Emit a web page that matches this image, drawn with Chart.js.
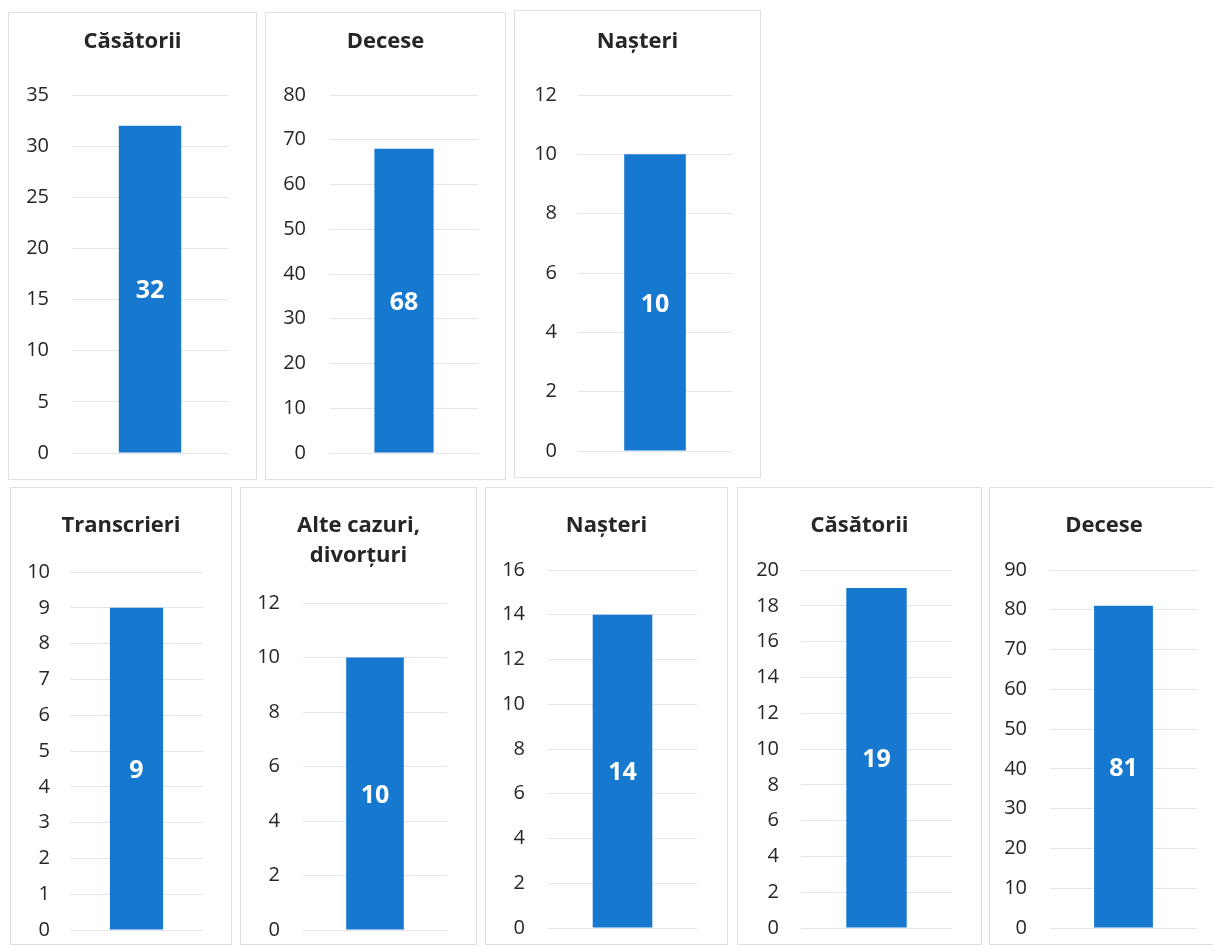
<!DOCTYPE html>
<html lang="ro">
<head>
<meta charset="utf-8">
<title>Acte de stare civilă</title>
<script src="https://cdn.jsdelivr.net/npm/chart.js@4.4.1/dist/chart.umd.min.js"></script>
<style>
    html, body { margin: 0; padding: 0; background: #ffffff; }
    body { width: 1213px; height: 950px; position: relative; overflow: hidden; }
    .panou {
        position: absolute;
        box-sizing: border-box;
        border: 1px solid #dedee6;
        background: #ffffff;
    }
    .panou canvas { position: absolute; left: 0; top: 0; }
</style>
</head>
<body>
<script>
// date - randul de sus
const titluriSus = ["Căsătorii", "Decese", "Nașteri"];
const valoriSus = [32, 68, 10];
const maximSus = [35, 80, 12];
const pasSus = [5, 10, 2];

// date - randul de jos
const titluriJos = ["Transcrieri", ["Alte cazuri,", "divorțuri"], "Nașteri", "Căsătorii", "Decese"];
const valoriJos = [9, 10, 14, 19, 81];
const maximJos = [10, 12, 16, 20, 90];
const pasJos = [1, 2, 2, 2, 10];

// asezarea fiecarui grafic in pagina: cadru, zona de desen, centrul titlului
const asezareSus = [
    { x: 8,   y: 12, w: 249, h: 468, st: 72,  dr: 228, sus: 95, jos: 453, ty: 42, pad: 23 },
    { x: 265, y: 12, w: 241, h: 468, st: 330, dr: 478, sus: 95, jos: 453, ty: 42, pad: 24 },
    { x: 514, y: 10, w: 247, h: 468, st: 578, dr: 732, sus: 95, jos: 451, ty: 42, pad: 21 }
];
const asezareJos = [
    { x: 10,  y: 487, w: 222, h: 458, st: 70,   dr: 203,  sus: 572, jos: 930, ty: 526, pad: 20 },
    { x: 240, y: 487, w: 237, h: 458, st: 303,  dr: 447,  sus: 603, jos: 930, ty: 526, pad: 23 },
    { x: 485, y: 487, w: 243, h: 458, st: 548,  dr: 697,  sus: 570, jos: 928, ty: 526, pad: 23 },
    { x: 737, y: 487, w: 245, h: 458, st: 801,  dr: 952,  sus: 570, jos: 928, ty: 526, pad: 22 },
    { x: 989, y: 487, w: 230, h: 458, st: 1050, dr: 1197, sus: 570, jos: 928, ty: 526, pad: 23 }
];

const FONT = "'Open Sans', 'Noto Sans', sans-serif";
const ALBASTRU = "#1679cf";
const MARIME_TITLU = 22;
const INALTIME_RAND = 1.35;

// eticheta cu valoarea, scrisa la mijlocul coloanei
const eticheteValori = {
    id: "eticheteValori",
    afterDatasetsDraw(chart) {
        const ctx = chart.ctx;
        chart.data.datasets.forEach((set, i) => {
            chart.getDatasetMeta(i).data.forEach((bara, j) => {
                ctx.save();
                ctx.font = "bold 25px " + FONT;
                ctx.fillStyle = "#ffffff";
                ctx.textAlign = "center";
                ctx.textBaseline = "middle";
                // +2: cifrele stau putin prea sus cu baseline 'middle'
                ctx.fillText(String(set.data[j]), bara.x, (bara.y + bara.base) / 2 + 2);
                ctx.restore();
            });
        });
    }
};

function creeazaGrafic(titlu, valoare, maxim, pas, a) {
    const panou = document.createElement("div");
    panou.className = "panou";
    panou.style.left = a.x + "px";
    panou.style.top = a.y + "px";
    panou.style.width = a.w + "px";
    panou.style.height = a.h + "px";
    document.body.appendChild(panou);

    const ox = a.x + 1, oy = a.y + 1;
    const W = a.w - 2, H = a.h - 2;
    const canvas = document.createElement("canvas");
    canvas.width = W;
    canvas.height = H;
    panou.appendChild(canvas);

    const randuri = Array.isArray(titlu) ? titlu.length : 1;
    const lh = MARIME_TITLU * INALTIME_RAND;
    const sus = a.ty - oy - lh / 2;
    const subTitlu = (a.sus - oy) - sus - randuri * lh;
    const jos = oy + H - a.jos;
    const latimeSt = a.st - ox;
    const latimeDr = ox + W - a.dr;

    new Chart(canvas, {
        type: "bar",
        data: {
            labels: [Array.isArray(titlu) ? titlu.join(" ") : titlu],
            datasets: [{
                data: [valoare],
                backgroundColor: ALBASTRU,
                barPercentage: 0.4,
                categoryPercentage: 1.0
            }]
        },
        options: {
            responsive: false,
            animation: false,
            layout: { padding: { top: sus, bottom: jos, left: 0, right: 0 } },
            plugins: {
                legend: { display: false },
                tooltip: { enabled: false },
                title: {
                    display: true,
                    text: titlu,
                    color: "#262626",
                    font: { family: FONT, size: MARIME_TITLU, weight: "bold", lineHeight: INALTIME_RAND },
                    padding: { top: 0, bottom: subTitlu }
                }
            },
            scales: {
                x: { display: false },
                y: {
                    min: 0,
                    max: maxim,
                    position: "left",
                    ticks: {
                        stepSize: pas,
                        padding: a.pad,
                        color: "#262626",
                        font: { family: FONT, size: 20 }
                    },
                    grid: { color: "#e4e4ea", lineWidth: 1, drawTicks: false },
                    border: { display: false },
                    // latime fixa a axei; fara spatiu suplimentar sus/jos pentru etichete
                    afterFit: (s) => {
                        s.width = latimeSt;
                        s.paddingTop = 0;
                        s.paddingBottom = 0;
                    }
                },
                dreapta: {
                    type: "linear",
                    position: "right",
                    display: true,
                    ticks: { display: false },
                    grid: { display: false },
                    border: { display: false },
                    afterFit: (s) => {
                        s.width = latimeDr;
                        s.paddingTop = 0;
                        s.paddingBottom = 0;
                    }
                }
            }
        },
        plugins: [eticheteValori]
    });
}

titluriSus.forEach((t, i) => creeazaGrafic(t, valoriSus[i], maximSus[i], pasSus[i], asezareSus[i]));
titluriJos.forEach((t, i) => creeazaGrafic(t, valoriJos[i], maximJos[i], pasJos[i], asezareJos[i]));
</script>
</body>
</html>
